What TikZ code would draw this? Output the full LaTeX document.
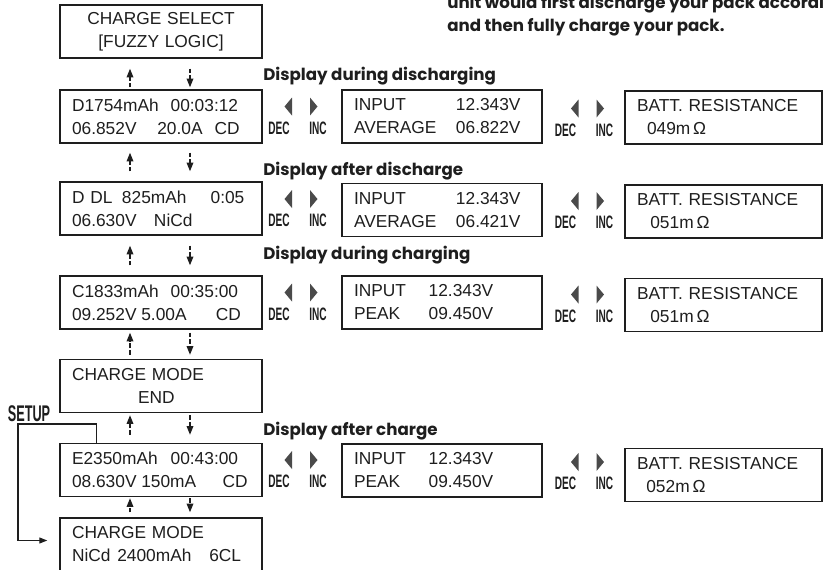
\documentclass[tikz,border=0pt]{standalone}
\usepackage{fontspec}
\usepackage{graphicx}
\setmainfont{Liberation Sans}
\newfontfamily\headfont{Poppins}
\usepackage{tikz}
\usetikzlibrary{arrows.meta,calc}
\definecolor{lcdInk}{HTML}{1E1E1E}
\definecolor{navGray}{HTML}{4A4A4A}
\newcommand{\fld}[2]{\makebox[#1pt][l]{#2}}
\newcommand{\keycap}[1]{\scalebox{0.56}[1]{#1}}
\tikzset{
  lcd/.style     = {draw=lcdInk, line width=1.1pt, text=lcdInk, align=left,
                    font=\fontsize{13}{17.25}\selectfont,
                    minimum height=39.75pt, inner ysep=0pt, inner xsep=9pt},
  lcdL/.style    = {lcd, text width=133.5pt},
  lcdM/.style    = {lcd, text width=132pt},
  lcdR/.style    = {lcd, text width=129.75pt},
  stage/.style   = {font=\headfont\bfseries\fontsize{12.5}{14}\selectfont,
                    text=lcdInk, anchor=base west, inner sep=0pt},
  key/.style     = {font=\bfseries\fontsize{13.5}{13.5}\selectfont,
                    text=lcdInk, inner sep=0pt},
  flow/.style    = {draw=lcdInk, line width=0.9pt,
                    dash pattern=on 3.5pt off 1.5pt,
                    -{Triangle[length=6.5pt,width=5pt]}},
  setupln/.style = {draw=lcdInk, line width=0.9pt,
                    -{Triangle[length=6pt,width=4.5pt]}},
}
\begin{document}
\begin{tikzpicture}[x=0.75pt, y=-0.75pt]
  \useasboundingbox (0,0) rectangle (825,569);
  \clip (0,0) rectangle (825,569);
  % text running in from the page above
  \node[stage] (intro1) at (447,8) {unit would first discharge your pack according};
  \node[stage] (intro2) at (447,31) {and then fully charge your pack.};

  % main screens
  \node[lcdL, align=center] (sel) at (161,31.5) {CHARGE SELECT\\{}[FUZZY LOGIC]};
  \node[lcdL] (dis) at (161,116.5)
    {\fld{74}{D1754mAh}00:03:12\\\fld{64}{06.852V}\fld{43}{20.0A}CD};
  \node[lcdL] (ddl) at (161,208.5)
    {\fld{37.5}{D DL}\fld{66.5}{825mAh}0:05\\\fld{61.5}{06.630V}NiCd};
  \node[lcdL] (chg) at (161,302.5)
    {\fld{74}{C1833mAh}00:35:00\\\fld{52}{09.252V}\fld{56}{5.00A}CD};
  \node[lcdL] (cend) at (161,386) {CHARGE MODE\\\hspace*{49.5pt}END};
  \node[lcdL] (fin) at (161,470)
    {\fld{74}{E2350mAh}00:43:00\\\fld{52}{08.630V}\fld{61}{150mA}CD};
  \node[lcdL] (mode) at (161,544.5)
    {CHARGE MODE\\\fld{34}{NiCd}\fld{69}{2400mAh}6CL};

  % side screens
  \node[lcdM] (disM) at (442,116.5) {\fld{76.5}{INPUT}12.343V\\\fld{76.5}{AVERAGE}06.822V};
  \node[lcdM] (ddlM) at (442,210)   {\fld{76.5}{INPUT}12.343V\\\fld{76.5}{AVERAGE}06.421V};
  \node[lcdM] (chgM) at (442,302.5) {\fld{56}{INPUT}12.343V\\\fld{56}{PEAK}09.450V};
  \node[lcdM] (finM) at (442,470.5) {\fld{56}{INPUT}12.343V\\\fld{56}{PEAK}09.450V};
  \node[lcdR] (disR) at (723.5,117.5) {BATT.\ RESISTANCE\\\hspace*{7.5pt}049m\,Ω};
  \node[lcdR] (ddlR) at (723.5,211.5) {BATT.\ RESISTANCE\\\hspace*{10pt}051m\,Ω};
  \node[lcdR] (chgR) at (723.5,305)   {BATT.\ RESISTANCE\\\hspace*{10pt}051m\,Ω};
  \node[lcdR] (finR) at (723.5,475)   {BATT.\ RESISTANCE\\\hspace*{7pt}052m\,Ω};

  % stage titles
  \node[stage] (lbDis) at (263,80)  {Display during discharging};
  \node[stage] (lbDdl) at (263,175) {Display after discharge};
  \node[stage] (lbChg) at (263,259) {Display during charging};
  \node[stage] (lbFin) at (263,435) {Display after charge};

  % DEC / INC keys between the screens
  \foreach \r/\cy in {dis/116.5, ddl/209, chg/302.5, fin/470}{
    \foreach \k/\cx/\dy in {1/298.5/0, 2/585/2}{
      \coordinate (nav\k\r) at (\cx,\cy+\dy);
      \fill[navGray] ($(nav\k\r)+(-14,-10)$) -- ++(7.5,-9) -- ++(0,18) -- cycle;
      \fill[navGray] ($(nav\k\r)+(19,-10)$) -- ++(-7.5,-9) -- ++(0,18) -- cycle;
      \node[key] (dec\k\r) at ($(nav\k\r)+(-19.5,11.5)$) {\keycap{DEC}};
      \node[key] (inc\k\r) at ($(nav\k\r)+(19.5,11.5)$) {\keycap{INC}};
    }
  }

  % up / down between main screens
  \foreach \u/\l/\s/\t in {sel/dis/10/2, dis/ddl/9/10, ddl/chg/10/10,
                           chg/cend/3/4, cend/fin/2/8, fin/mode/1/5}{
    \draw[flow, shorten <=\t*0.75pt, shorten >=\s*0.75pt]
      ($(\l.north)+(-31,0)$) -- ($(\u.south)+(-31,0)$);
    \draw[flow, shorten <=\s*0.75pt, shorten >=\t*0.75pt]
      ($(\u.south)+(29,0)$) -- ($(\l.north)+(29,0)$);
  }

  % SETUP jump
  \node[key, font=\bfseries\fontsize{17}{17}\selectfont] (setup) at (29,413.5)
    {\scalebox{0.56}[1]{SETUP}};
  \coordinate (setupTurn) at (18,424);
  \draw[setupln] ($(fin.north west)+(37,0)$) |- (setupTurn)
    |- ($(mode.west)+(-12,-4)$);
\end{tikzpicture}
\end{document}
